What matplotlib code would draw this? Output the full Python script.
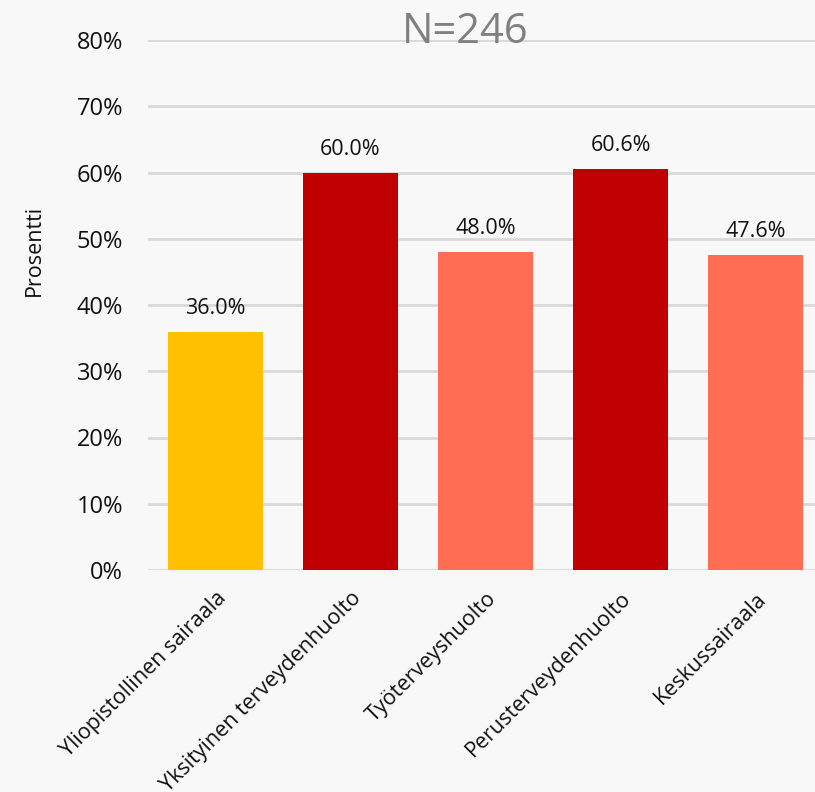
import matplotlib.pyplot as plt
from matplotlib.ticker import PercentFormatter

plt.rcParams['font.family'] = ['Open Sans', 'DejaVu Sans']

categories = ["Yliopistollinen sairaala", "Yksityinen terveydenhuolto",
              "Työterveyshuolto", "Perusterveydenhuolto", "Keskussairaala"]
values = [36.0, 60.0, 48.0, 60.6, 47.6]
colors = ["#FFC000", "#C00000", "#FF6D55", "#C00000", "#FF6D55"]
y_ticks = [0, 10, 20, 30, 40, 50, 60, 70, 80]

BG = "#F8F8F8"

fig = plt.figure(figsize=(8.15, 7.92), dpi=100, facecolor=BG)
ax = fig.add_axes([148 / 815, 1 - 570 / 792, 667 / 815, 530 / 792], facecolor=BG)

x = range(len(categories))
bars = ax.bar(x, values, width=0.71, color=colors, zorder=3)

for b, v in zip(bars, values):
    ax.annotate(f"{v:.1f}%", (b.get_x() + b.get_width() / 2, v),
                xytext=(0, 9), textcoords="offset points",
                ha="center", va="bottom", fontsize=15.5, color="#111111")

ax.set_xlim(-0.5, -0.5 + 667 / 135)
ax.set_ylim(0, 80)
ax.set_yticks(y_ticks)
ax.yaxis.set_major_formatter(PercentFormatter(decimals=0))
ax.grid(axis="y", color="#D9D9D9", linewidth=2, zorder=0)
for s in ax.spines.values():
    s.set_visible(False)
ax.tick_params(axis="y", length=0, pad=18, labelsize=17, labelcolor="#111111")
ax.tick_params(axis="x", length=0, pad=13)
ax.set_xticks(list(x))
ax.set_xticklabels(categories, rotation=45, ha="right", va="top",
                   rotation_mode="anchor", fontsize=15.5, color="#111111")

fig.text(34 / 815, 1 - 250 / 792, "Prosentti", rotation=90,
         ha="center", va="center", fontsize=15.5, color="#111111")
fig.text(465 / 815, 1 - 43 / 792, "N=246", ha="center", va="baseline",
         fontsize=30, color="#808080")

fig.savefig("out.png", dpi=100, facecolor=BG)
